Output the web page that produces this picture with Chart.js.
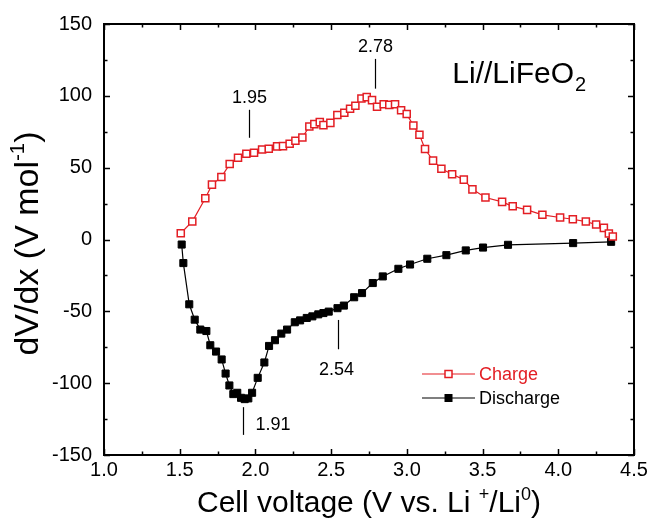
<!DOCTYPE html>
<html>
<head>
<meta charset="utf-8">
<script src="https://cdn.jsdelivr.net/npm/chart.js@4/dist/chart.umd.min.js"></script>
<style>
  html, body { margin: 0; padding: 0; background: #fff; }
  #wrap { width: 652px; height: 522px; }
</style>
</head>
<body>
<div id="wrap"><canvas id="chart" width="652" height="522"></canvas></div>
<script>
// charge curve (cell voltage, dV/dx)
const chargeV = [1.507, 1.583, 1.669, 1.713, 1.775, 1.830, 1.885, 1.940, 1.991, 2.044,
  2.088, 2.143, 2.182, 2.226, 2.264, 2.310, 2.356, 2.389, 2.425, 2.449,
  2.495, 2.541, 2.587, 2.625, 2.660, 2.700, 2.735, 2.770, 2.803, 2.847,
  2.884, 2.922, 2.962, 2.999, 3.043, 3.083, 3.120, 3.173, 3.228, 3.299,
  3.376, 3.433, 3.519, 3.629, 3.699, 3.794, 3.895, 4.012, 4.096, 4.182,
  4.250, 4.301, 4.334, 4.360];
const chargeY = [4.4, 12.5, 28.7, 38.2, 43.5, 52.5, 56.9, 59.7, 60.4, 62.7,
  63.2, 64.8, 65.0, 66.7, 68.7, 71.0, 78.7, 80.3, 81.7, 79.6,
  81.2, 86.6, 88.2, 91.0, 93.1, 98.1, 99.1, 97.0, 92.4, 94.2,
  93.7, 94.2, 90.0, 87.3, 79.4, 72.9, 63.0, 54.9, 49.3, 45.4,
  41.7, 34.9, 29.2, 26.2, 23.1, 20.6, 17.2, 15.3, 14.1, 12.5,
  10.4, 8.1, 4.2, 2.1];

// discharge curve
const dischargeV = [1.513, 1.524, 1.563, 1.599, 1.636, 1.676, 1.702, 1.740, 1.777, 1.803,
  1.828, 1.854, 1.880, 1.905, 1.929, 1.953, 1.978, 2.015, 2.059, 2.090,
  2.129, 2.171, 2.209, 2.260, 2.295, 2.339, 2.376, 2.415, 2.449, 2.484,
  2.542, 2.584, 2.652, 2.704, 2.775, 2.841, 2.944, 3.021, 3.135, 3.261,
  3.389, 3.503, 3.668, 4.098, 4.349];
const dischargeY = [-3.5, -16.4, -45.1, -55.8, -62.7, -63.7, -73.6, -78.0, -83.5, -93.3,
  -101.6, -107.6, -106.7, -110.2, -111.1, -110.6, -106.7, -96.3, -85.6, -74.1,
  -70.1, -65.5, -62.7, -57.6, -56.3, -54.6, -53.5, -52.1, -51.2, -50.2,
  -47.8, -46.0, -40.2, -37.3, -30.3, -25.7, -20.4, -17.4, -13.4, -10.9,
  -7.6, -5.6, -3.7, -2.5, -1.6];

// peak labels: text, peak voltage, line from/to (dV/dx)
const peakLabels = ['1.95', '2.78', '1.91', '2.54'];
const peakAt = [1.956, 2.79, 1.916, 2.546];
const peakLineFrom = [70.8, 105, -116.7, -56];
const peakLineTo = [90.3, 125.7, -136, -76.4];

const RED = '#e31e24';
const FONT = 'Arial, "Liberation Sans", Helvetica, sans-serif';

function pairs(xs, ys) {
  return xs.map((x, i) => ({ x: x, y: ys[i] }));
}

// draws text with superscript/subscript pieces, centred on x
function richText(ctx, parts, x, y, size) {
  let total = 0;
  parts.forEach(p => {
    ctx.font = (p.s ? size * 0.6 : size) + 'px ' + FONT;
    p.w = ctx.measureText(p.t).width;
    total += p.w;
  });
  let cx = x - total / 2;
  parts.forEach(p => {
    ctx.font = (p.s ? size * 0.6 : size) + 'px ' + FONT;
    ctx.fillText(p.t, cx, y + (p.s || 0) * size);
    cx += p.w;
  });
}

// frame with inward major/minor ticks on all four sides
const framePlugin = {
  id: 'frame',
  afterDraw(chart) {
    const ctx = chart.ctx;
    const a = chart.chartArea;
    const xs = chart.scales.x, ys = chart.scales.y;
    ctx.save();
    ctx.strokeStyle = '#000';
    ctx.lineWidth = 2;
    ctx.strokeRect(a.left, a.top, a.right - a.left, a.bottom - a.top);
    ctx.lineWidth = 1.5;
    const major = 6, minor = 3.5;

    function tickList(scale) {
      const vals = scale.ticks.map(t => t.value);
      const out = [];
      vals.forEach((v, i) => {
        out.push([v, major]);
        if (i < vals.length - 1) out.push([(v + vals[i + 1]) / 2, minor]);
      });
      return out;
    }
    ctx.beginPath();
    tickList(xs).forEach(([v, len]) => {
      const px = Math.round(xs.getPixelForValue(v)) + 0.5;
      ctx.moveTo(px, a.bottom); ctx.lineTo(px, a.bottom - len);
      ctx.moveTo(px, a.top); ctx.lineTo(px, a.top + len);
    });
    tickList(ys).forEach(([v, len]) => {
      const py = Math.round(ys.getPixelForValue(v)) + 0.5;
      ctx.moveTo(a.left, py); ctx.lineTo(a.left + len, py);
      ctx.moveTo(a.right, py); ctx.lineTo(a.right - len, py);
    });
    ctx.stroke();

    // axis titles
    ctx.fillStyle = '#000';
    ctx.textAlign = 'left';
    ctx.textBaseline = 'alphabetic';
    richText(ctx, [{ t: 'Cell voltage (V vs. Li ' }, { t: '+', s: -0.4 }, { t: '/Li' },
      { t: '0', s: -0.4 }, { t: ')' }], (a.left + a.right) / 2, 512, 30);
    ctx.translate(38, (a.top + a.bottom) / 2 + 4);
    ctx.rotate(-Math.PI / 2);
    richText(ctx, [{ t: 'dV/dx (V mol' }, { t: '-1', s: -0.4 }, { t: ')' }], 0, 0, 34);
    ctx.restore();
  }
};

// inset title, peak markers and legend
const notesPlugin = {
  id: 'notes',
  afterDraw(chart) {
    const ctx = chart.ctx;
    const a = chart.chartArea;
    const xs = chart.scales.x, ys = chart.scales.y;
    ctx.save();

    // Li//LiFeO2
    ctx.fillStyle = '#000';
    ctx.textBaseline = 'alphabetic';
    ctx.textAlign = 'left';
    ctx.font = '30px ' + FONT;
    const tx = xs.getPixelForValue(3.30), ty = ys.getPixelForValue(109);
    const main = 'Li//LiFeO';
    ctx.fillText(main, tx, ty);
    const w = ctx.measureText(main).width;
    ctx.font = '20px ' + FONT;
    ctx.fillText('2', tx + w + 1, ty + 8);

    // peak markers
    ctx.strokeStyle = '#000';
    ctx.lineWidth = 1.2;
    ctx.font = '18px ' + FONT;
    ctx.textBaseline = 'middle';
    peakLabels.forEach((lab, i) => {
      const px = Math.round(xs.getPixelForValue(peakAt[i])) + 0.5;
      const y1 = ys.getPixelForValue(peakLineFrom[i]);
      const y2 = ys.getPixelForValue(peakLineTo[i]);
      ctx.beginPath();
      ctx.moveTo(px, y1); ctx.lineTo(px, y2);
      ctx.stroke();
      if (i === 2) {
        ctx.textAlign = 'left';
        ctx.fillText(lab, px + 12, (y1 + y2) / 2 + 4);
      } else if (i === 3) {
        ctx.textAlign = 'center';
        ctx.fillText(lab, px - 2, y2 + 21);
      } else {
        ctx.textAlign = 'center';
        ctx.fillText(lab, px, y2 - 12);
      }
    });

    // legend
    const lx0 = a.left + 318, lx1 = a.left + 371;
    chart.data.datasets.forEach((ds, i) => {
      const ly = a.top + 350 + i * 24;
      ctx.strokeStyle = ds.borderColor;
      ctx.lineWidth = ds.borderWidth;
      ctx.beginPath();
      ctx.moveTo(lx0, ly); ctx.lineTo(lx1, ly);
      ctx.stroke();
      const cx = (lx0 + lx1) / 2;
      ctx.fillStyle = ds.pointBackgroundColor;
      ctx.fillRect(cx - 3.5, ly - 3.5, 7, 7);
      ctx.lineWidth = ds.pointBorderWidth;
      ctx.strokeStyle = ds.pointBorderColor;
      ctx.strokeRect(cx - 3.5, ly - 3.5, 7, 7);
      ctx.fillStyle = ds.borderColor;
      ctx.textAlign = 'left';
      ctx.font = '18px ' + FONT;
      ctx.fillText(ds.label, lx1 + 4, ly + 1);
    });
    ctx.restore();
  }
};

new Chart(document.getElementById('chart'), {
  type: 'scatter',
  data: {
    datasets: [{
      label: 'Charge',
      data: pairs(chargeV, chargeY),
      showLine: true,
      borderColor: RED,
      borderWidth: 1.2,
      pointStyle: 'rect',
      pointRadius: 5,
      pointBorderWidth: 1.5,
      pointBorderColor: RED,
      pointBackgroundColor: '#fff'
    }, {
      label: 'Discharge',
      data: pairs(dischargeV, dischargeY),
      showLine: true,
      borderColor: '#000',
      borderWidth: 1.2,
      pointStyle: 'rect',
      pointRadius: 5,
      pointBorderWidth: 1,
      pointBorderColor: '#000',
      pointBackgroundColor: '#000'
    }]
  },
  options: {
    responsive: false,
    animation: false,
    layout: { padding: { top: 23, right: 18, left: 0, bottom: 0 } },
    plugins: { legend: { display: false }, tooltip: { enabled: false } },
    scales: {
      x: {
        type: 'linear',
        min: 1.0, max: 4.5,
        grid: { display: false, drawTicks: false },
        border: { display: false },
        ticks: {
          stepSize: 0.5, padding: 3, color: '#000',
          font: { family: FONT, size: 20 },
          callback: v => v.toFixed(1)
        },
        afterFit: s => { s.height = 67; }
      },
      y: {
        type: 'linear',
        min: -150, max: 150,
        grid: { display: false, drawTicks: false },
        border: { display: false },
        ticks: {
          stepSize: 50, padding: 12, color: '#000',
          font: { family: FONT, size: 20 }
        },
        afterFit: s => { s.width = 104; }
      }
    }
  },
  plugins: [framePlugin, notesPlugin]
});
</script>
</body>
</html>
